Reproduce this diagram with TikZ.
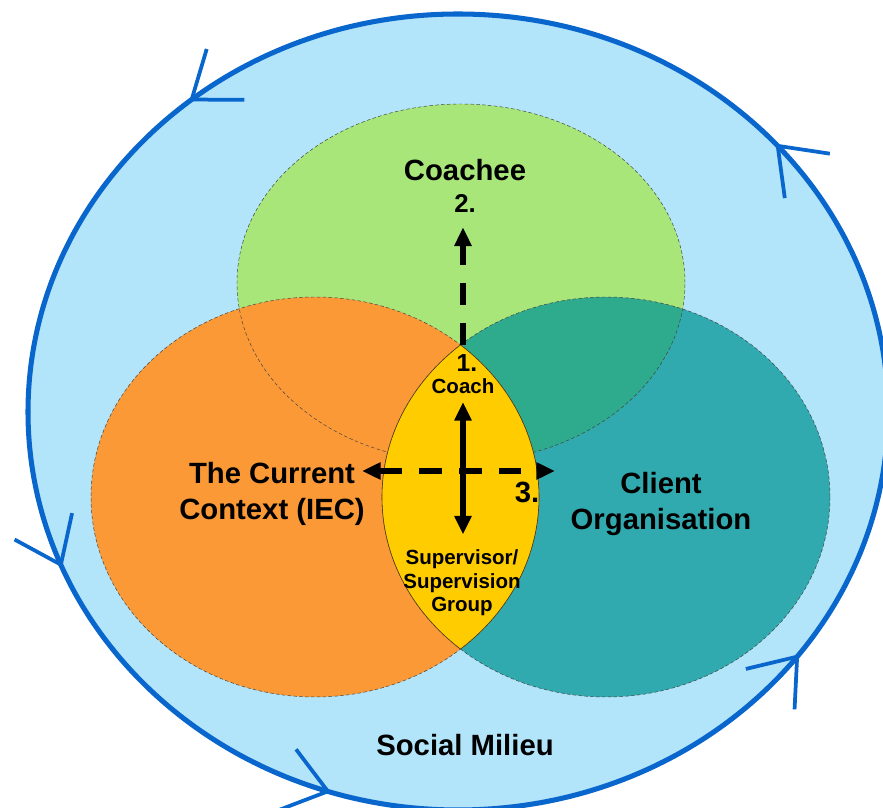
\documentclass[tikz,border=0pt]{standalone}
\usepackage{fontspec}
\setmainfont{Liberation Sans}
\usetikzlibrary{arrows.meta}

\definecolor{milieufill}{RGB}{178,228,250}
\definecolor{milieublue}{RGB}{8,102,204}
\definecolor{coacheegreen}{RGB}{168,230,122}
\definecolor{contextorange}{RGB}{250,153,54}
\definecolor{clientteal}{RGB}{0,148,147}
\definecolor{lensyellow}{RGB}{255,204,0}

\begin{document}
\begin{tikzpicture}[x=0.03cm,y=0.03cm,
	set/.style={draw=black!75,densely dashed,line width=0.4pt},
	rim/.style={draw=black!60!brown,line width=0.5pt},
	big/.style={font=\fontsize{25}{30}\selectfont\bfseries,align=center},
	small/.style={font=\fontsize{17.5}{20}\selectfont\bfseries,align=center,inner sep=1pt},
	num/.style={font=\fontsize{#1}{#1}\selectfont\bfseries,inner sep=0pt},
	head/.tip={Triangle[length=16pt,width=14pt]},
	flow/.style={line width=4.5pt},
	gap/.style={dash pattern=on 19pt off 15pt},
	turn/.style={milieublue,line width=3.2pt,-{Straight Barb[length=36pt,width=54pt]}}]
	\useasboundingbox (0,0) rectangle (883,808);
	% social milieu with its turning arrows
	\draw[line width=4.3pt,draw=milieublue,fill=milieufill] (458,396) ellipse [x radius=430,y radius=398];
	\foreach \t in {42.4,128.7,203,252.8,322.5} \draw[turn] (458,396) ++(\t-4:430 and 398) arc [start angle=\t-4,end angle=\t,x radius=430,y radius=398];
	% the three sets
	\fill[coacheegreen] (461,525) ellipse [x radius=224,y radius=179];
	\fill[contextorange] (315,311) ellipse [x radius=224,y radius=200];
	\fill[clientteal,fill opacity=0.72] (606,311) ellipse [x radius=224,y radius=200];
	\draw[set] (461,525) ellipse [x radius=224,y radius=179];
	\draw[set] (315,311) ellipse [x radius=224,y radius=200];
	\draw[set] (606,311) ellipse [x radius=224,y radius=200];
	% lens between context and client
	\begin{scope}
		\clip (315,311) ellipse [x radius=224,y radius=200];
		\fill[lensyellow] (606,311) ellipse [x radius=224,y radius=200];
		\draw[rim] (606,311) ellipse [x radius=224,y radius=200];
	\end{scope}
	\begin{scope}
		\clip (606,311) ellipse [x radius=224,y radius=200];
		\draw[rim] (315,311) ellipse [x radius=224,y radius=200];
	\end{scope}
	% labels
	\node[big] (coachee) at (465,638) {Coachee};
	\node[num=22] (coacheenum) at (465,604) {2.};
	\node[num=21] (coachnum) at (467,445) {1.};
	\node[small] (coach) at (463,422) {Coach};
	\node[small] (superv) at (462,225) {Supervisor/\\Supervision\\Group};
	\node[big] (context) at (272,314) {The Current\\Context (IEC)};
	\node[big] (client) at (661,304) {Client\\Organisation};
	\node[num=25] (clientnum) at (527,316) {3.};
	\node[big] (milieu) at (465,63) {Social Milieu};
	\coordinate (lenstop) at (463,463);
	\coordinate (ctxend) at (362,337);
	\coordinate (orgend) at (555,337);
	% arrows
	\draw[flow,gap,-head,shorten >=12pt] (lenstop) -- (lenstop |- coacheenum.south);
	\draw[flow,head-head,shorten <=6pt,shorten >=12pt] (coach.south -| lenstop) -- (superv.north -| lenstop);
	\draw[flow,gap,head-head] (ctxend) -- (orgend);
\end{tikzpicture}
\end{document}
